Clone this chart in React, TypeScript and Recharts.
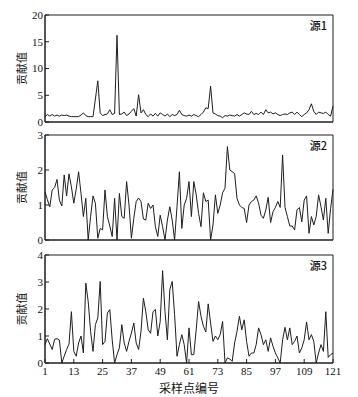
import * as React from 'react';
import { LineChart, Line, XAxis, YAxis, ReferenceArea } from 'recharts';

// sample numbers 1..121 (x axis categories)
const samples = Array.from({ length: 121 }, (_, i) => i + 1);
const xTicks = [1, 13, 25, 37, 49, 61, 73, 85, 97, 109, 121];

// source 1 contribution
const source1 = [
  1.0, 1.4, 1.1, 1.4, 1.1, 1.3, 1.1, 1.3, 1.2, 1.3,
  1.1, 1.0, 1.0, 1.0, 1.0, 1.3, 1.7, 1.2, 1.0, 1.0,
  1.0, 4.3, 7.7, 1.7, 1.2, 1.4, 1.5, 2.3, 1.4, 1.6,
  16.2, 1.4, 1.5, 1.85, 1.2, 1.5, 2.0, 2.5, 1.1, 5.1,
  1.7, 2.3, 1.4, 1.0, 1.5, 1.1, 1.6, 1.1, 1.7, 1.4,
  1.1, 1.5, 1.0, 1.4, 1.2, 1.4, 2.2, 1.4, 1.2, 1.1,
  1.3, 1.1, 1.4, 1.2, 1.0, 1.4, 1.85, 2.65, 2.5, 6.7,
  1.7, 1.5, 1.2, 1.1, 0.8, 1.2, 1.1, 1.3, 1.2, 1.1,
  1.4, 1.1, 1.4, 1.7, 1.5, 1.4, 2.0, 1.4, 1.6, 1.4,
  1.85, 1.4, 2.3, 1.7, 1.85, 1.5, 1.7, 1.4, 1.2, 1.4,
  1.5, 1.4, 1.7, 1.85, 1.4, 1.85, 1.4, 1.0, 1.4, 1.7,
  2.3, 3.4, 2.0, 1.4, 1.85, 1.7, 1.6, 1.85, 1.4, 1.1, 3.0,
];

// source 2 contribution
const source2 = [
  1.38, 1.15, 0.95, 1.43, 1.5, 1.73, 1.14, 0.97, 1.86, 1.26,
  1.89, 1.52, 1.05, 1.45, 1.95, 1.33, 0.67, 1.19, 0.0, 0.67,
  1.26, 1.05, 0.05, 0.33, 0.29, 1.43, 0.67, 0.4, 0.1, 1.19,
  0.0, 1.33, 0.67, 0.62, 1.67, 1.0, 0.05, 0.62, 1.1, 1.2,
  1.1, 0.6, 0.57, 1.05, 0.9, 1.0, 0.38, 0.1, 0.71, 0.38,
  0.0, 0.57, 0.95, 0.57, 0.0, 0.95, 1.95, 0.33, 1.0, 1.19,
  1.67, 0.67, 1.67, 1.29, 0.76, 0.38, 1.35, 1.1, 1.14, 0.0,
  0.43, 1.29, 0.76, 1.0, 1.35, 1.48, 2.67, 2.0, 1.95, 1.9,
  1.19, 1.0, 0.93, 0.9, 0.5, 1.0, 1.1, 1.14, 1.26, 1.05,
  0.71, 0.62, 0.86, 1.22, 0.5, 0.81, 0.93, 1.1, 0.93, 2.43,
  0.93, 0.67, 0.4, 0.4, 0.29, 0.86, 0.93, 0.52, 1.14, 1.26,
  0.19, 0.67, 0.43, 0.67, 1.29, 0.95, 0.57, 1.19, 0.19, 0.9, 1.45,
];

// source 3 contribution
const source3 = [
  0.68, 0.9, 0.7, 0.5, 0.88, 0.9, 0.85, 0.0, 0.25, 0.5,
  0.7, 1.9, 0.43, 0.25, 0.74, 1.0, 0.37, 2.96, 2.28, 1.17,
  0.43, 1.42, 1.67, 3.02, 0.68, 0.8, 1.85, 1.98, 0.86, 0.0,
  0.31, 0.56, 1.42, 0.74, 0.43, 0.8, 1.11, 1.48, 0.74, 0.5,
  1.17, 2.4, 1.9, 1.23, 1.1, 1.9, 1.98, 1.0, 1.54, 3.42,
  1.9, 0.86, 2.72, 3.02, 1.79, 0.25, 0.68, 1.05, 0.68, 0.0,
  1.3, 0.31, 0.31, 1.23, 2.28, 1.73, 1.36, 1.15, 2.19, 1.48,
  0.8, 1.0, 0.86, 1.05, 1.54, 0.0, 0.19, 0.15, 0.06, 0.74,
  1.17, 1.73, 1.23, 1.6, 0.8, 0.25, 0.37, 0.37, 0.68, 1.3,
  1.05, 0.68, 0.86, 0.43, 0.93, 0.62, 0.37, 0.19, 0.0, 0.86,
  1.32, 0.86, 1.3, 0.68, 0.8, 1.0, 0.37, 0.56, 0.86, 1.52,
  0.86, 1.05, 0.8, 0.0, 0.37, 0.68, 0.43, 1.9, 0.21, 0.31, 0.37,
];

const yTicks1 = [0, 5, 10, 15, 20];
const yTicks2 = [0, 1, 2, 3];
const yTicks3 = [0, 1, 2, 3, 4];
const panelNames = ['源1', '源2', '源3'];
const yLabel = '贡献值';
const xLabel = '采样点编号';

const rows = samples.map((x, i) => ({ x, s1: source1[i], s2: source2[i], s3: source3[i] }));

const SERIF = '"Liberation Serif", "Times New Roman", serif';
const CJK = '"Noto Sans CJK SC", sans-serif';
const INK = '#1e1e1e';

interface PanelProps {
  top: number;
  height: number;
  marginTop: number;
  axisHeight: number;
  dataKey: string;
  yTicks: number[];
  name: string;
  last?: boolean;
}

function Panel({ top, height, marginTop, axisHeight, dataKey, yTicks, name, last }: PanelProps) {
  const yMax = yTicks[yTicks.length - 1];
  return (
    <div style={{ position: 'absolute', left: 0, top, width: 358, height, fontFamily: SERIF }}>
      <LineChart
        width={358}
        height={height}
        data={rows}
        margin={{ top: marginTop, right: 25, bottom: 0, left: 0 }}
      >
        <XAxis
          dataKey="x"
          type="number"
          domain={[1, 121]}
          ticks={xTicks}
          interval={0}
          height={axisHeight}
          tickSize={-4}
          tickMargin={8}
          stroke={INK}
          tick={last ? { fill: '#111', fontSize: 11, fontFamily: SERIF } : false}
          label={
            last
              ? { value: xLabel, position: 'insideBottom', offset: 4, fill: '#111', fontSize: 12, fontFamily: CJK }
              : undefined
          }
        />
        <YAxis
          type="number"
          domain={[0, yMax]}
          ticks={yTicks}
          interval={0}
          width={45}
          tickSize={-4}
          tickMargin={6}
          stroke={INK}
          tick={{ fill: '#111', fontSize: 11, fontFamily: SERIF }}
          label={{ value: yLabel, angle: -90, position: 'center', fill: '#111', fontSize: 11, fontFamily: CJK }}
        />
        {/* frame around the plot */}
        <ReferenceArea x1={1} x2={121} y1={0} y2={yMax} fill="none" stroke={INK} strokeWidth={1} ifOverflow="visible" />
        <Line
          type="linear"
          dataKey={dataKey}
          stroke={INK}
          strokeWidth={1}
          dot={false}
          activeDot={false}
          isAnimationActive={false}
        />
      </LineChart>
      <div
        style={{
          position: 'absolute',
          right: 31,
          top: marginTop + 4,
          fontSize: 11,
          fontFamily: CJK,
          fontWeight: 500,
          color: '#111',
          lineHeight: '12px',
        }}
      >
        {name}
      </div>
    </div>
  );
}

export default function App() {
  return (
    <div style={{ position: 'absolute', left: 0, top: 0, width: 358, height: 397, background: '#fff' }}>
      <Panel top={0} height={130} marginTop={15} axisHeight={8} dataKey="s1" yTicks={yTicks1} name={panelNames[0]} />
      <Panel top={127} height={121} marginTop={8} axisHeight={8} dataKey="s2" yTicks={yTicks2} name={panelNames[1]} />
      <Panel top={248} height={149} marginTop={7} axisHeight={34} dataKey="s3" yTicks={yTicks3} name={panelNames[2]} last />
    </div>
  );
}
